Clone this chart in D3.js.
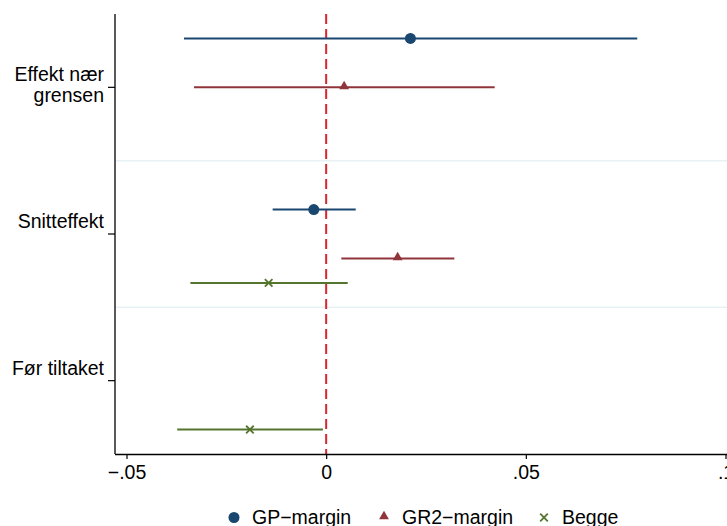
<!DOCTYPE html>
<html>
<head>
<meta charset="utf-8">
<script src="https://cdn.jsdelivr.net/npm/d3@7"></script>
<style>
  html, body { margin: 0; padding: 0; background: #fff; }
  svg { display: block; }
  text { font-family: "Liberation Sans", Arial, Helvetica, sans-serif; fill: #000; }
</style>
</head>
<body>
<svg id="chart" width="727" height="526"></svg>
<script>
// ---- data ----
const categories = ["Effekt nær grensen", "Snitteffekt", "Før tiltaket"];
const categoryLines = [["Effekt nær", "grensen"], ["Snitteffekt"], ["Før tiltaket"]];
const categoryRow = [2, 8, 14];          // row slot of each category tick
const separatorRows = [5, 11];           // row slots of group separators

const seriesNames = ["GP−margin", "GR2−margin", "Begge"];
// estimates, lower and upper bounds per category (null = not estimated)
const gpEst = [0.0211, -0.0031, null];
const gpLo  = [-0.0356, -0.0134, null];
const gpHi  = [0.0779, 0.0074, null];
const gpRow = [0, 7, null];

const gr2Est = [0.0045, 0.0179, null];
const gr2Lo  = [-0.0331, 0.0038, null];
const gr2Hi  = [0.0422, 0.0321, null];
const gr2Row = [2, 9, null];

const beggeEst = [null, -0.0144, -0.0191];
const beggeLo  = [null, -0.0340, -0.0373];
const beggeHi  = [null, 0.0054, -0.0008];
const beggeRow = [null, 10, 16];

const xTicks = [-0.05, 0, 0.05, 0.1];
const xTickLabels = ["−.05", "0", ".05", ".1"];

// ---- styles ----
const colors = ["#1a476f", "#90353b", "#55752f"];
const symbols = ["circle", "triangle", "cross"];

const svg = d3.select("#chart");
const pLeft = 115, pRight = 727, pTop = 14, pBottom = 454;

const x = d3.scaleLinear().domain([-0.05, 0.1]).range([126.5, 725.5]);
const y = d3.scaleLinear().domain([-1, 17]).range([pTop, pBottom]);

// separators
svg.selectAll("line.sep").data(separatorRows).enter().append("line")
  .attr("class", "sep")
  .attr("x1", pLeft).attr("x2", pRight)
  .attr("y1", d => y(d)).attr("y2", d => y(d))
  .attr("stroke", "#e8f1f3").attr("stroke-width", 1.5);

// zero line
svg.append("line")
  .attr("x1", x(0)).attr("x2", x(0))
  .attr("y1", pTop).attr("y2", pBottom)
  .attr("stroke", "#d9262e").attr("stroke-width", 2)
  .attr("stroke-dasharray", "10,5");

// series
const seriesData = [
  { est: gpEst, lo: gpLo, hi: gpHi, row: gpRow },
  { est: gr2Est, lo: gr2Lo, hi: gr2Hi, row: gr2Row },
  { est: beggeEst, lo: beggeLo, hi: beggeHi, row: beggeRow }
];

function drawMarker(g, type, cx, cy, color) {
  if (type === "circle") {
    g.append("circle").attr("cx", cx).attr("cy", cy).attr("r", 5.5).attr("fill", color);
  } else if (type === "triangle") {
    g.append("path")
      .attr("d", d3.symbol().type(d3.symbolTriangle).size(42)())
      .attr("transform", `translate(${cx},${cy - 1})`)
      .attr("fill", color);
  } else {
    const s = 3.8;
    g.append("path")
      .attr("d", `M${cx - s},${cy - s}L${cx + s},${cy + s}M${cx - s},${cy + s}L${cx + s},${cy - s}`)
      .attr("stroke", color).attr("stroke-width", 1.8).attr("fill", "none");
  }
}

seriesData.forEach((s, si) => {
  const g = svg.append("g");
  const pts = categories.map((c, i) => ({ est: s.est[i], lo: s.lo[i], hi: s.hi[i], row: s.row[i] }))
    .filter(d => d.est !== null);
  g.selectAll("line").data(pts).enter().append("line")
    .attr("x1", d => x(d.lo)).attr("x2", d => x(d.hi))
    .attr("y1", d => y(d.row)).attr("y2", d => y(d.row))
    .attr("stroke", colors[si]).attr("stroke-width", 2);
  pts.forEach(d => drawMarker(g, symbols[si], x(d.est), y(d.row), colors[si]));
});

// y axis
svg.append("line").attr("x1", pLeft).attr("x2", pLeft).attr("y1", pTop).attr("y2", pBottom)
  .attr("stroke", "#000").attr("stroke-width", 1.3);
const yAx = svg.append("g");
categories.forEach((c, i) => {
  const ty = y(categoryRow[i]);
  yAx.append("line").attr("x1", pLeft - 7).attr("x2", pLeft).attr("y1", ty).attr("y2", ty)
    .attr("stroke", "#000").attr("stroke-width", 1.2);
  const lines = categoryLines[i];
  lines.forEach((ln, k) => {
    yAx.append("text")
      .attr("x", 104).attr("y", ty - 6 + k * 20.5)
      .attr("text-anchor", "end").attr("font-size", "19.5px")
      .text(ln);
  });
});

// x axis
const xAxis = d3.axisBottom(x).tickValues(xTicks)
  .tickFormat((d, i) => xTickLabels[i]).tickSize(5).tickSizeOuter(0);
const xg = svg.append("g").attr("transform", `translate(0,${pBottom})`).call(xAxis);
xg.select(".domain").attr("d", `M${pLeft},0.5H${pRight}`).attr("stroke", "#000").attr("stroke-width", 1.3);
xg.selectAll(".tick line").attr("stroke", "#000").attr("stroke-width", 1.2);
xg.selectAll(".tick text").attr("font-size", "19.5px").attr("dy", null).attr("y", 25)
  .attr("font-family", "Liberation Sans, Arial, sans-serif").attr("fill", "#000");

// legend
const legendX = [234, 384, 544];
const legendY = 517.5;
seriesNames.forEach((name, i) => {
  const g = svg.append("g");
  drawMarker(g, symbols[i], legendX[i], legendY, colors[i]);
  g.append("text").attr("x", legendX[i] + 18).attr("y", legendY + 6.5)
    .attr("font-size", "19.5px").text(name);
});
</script>
</body>
</html>
